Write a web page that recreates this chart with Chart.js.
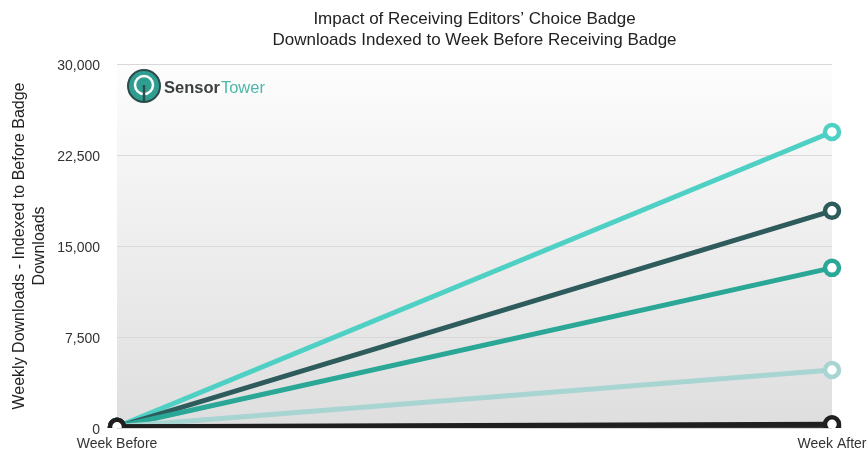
<!DOCTYPE html>
<html>
<head>
<meta charset="utf-8">
<script src="https://cdn.jsdelivr.net/npm/chart.js@4/dist/chart.umd.min.js"></script>
<style>
  html, body { margin: 0; padding: 0; background: #fff; }
  #wrap { width: 868px; height: 455px; }
</style>
</head>
<body>
<div id="wrap"><canvas id="chart"></canvas></div>
<script>
const semanas = ['Week Before', 'Week After'];

const serieClara = [100, 24400];
const serieOscura = [100, 17900];
const serieMedia = [100, 13200];
const seriePalida = [100, 4780];
const serieNegra = [100, 300];
const serieGris = [100, 120];

const titulo = ['Impact of Receiving Editors\u2019 Choice Badge', 'Downloads Indexed to Week Before Receiving Badge'];

const FUENTE = "'Liberation Sans', Helvetica, Arial, sans-serif";

// fondo degradado del area del grafico
const fondoPlugin = {
    id: 'fondo',
    beforeDraw(chart) {
        const { ctx, chartArea: a } = chart;
        const g = ctx.createLinearGradient(0, a.top, 0, a.bottom);
        g.addColorStop(0, '#fdfdfd');
        g.addColorStop(1, '#dedede');
        ctx.save();
        ctx.fillStyle = g;
        ctx.fillRect(a.left, a.top, a.right - a.left, a.bottom - a.top);
        ctx.restore();
    }
};

// titulo centrado sobre el area del grafico
const tituloPlugin = {
    id: 'titulo',
    afterDraw(chart) {
        const { ctx, chartArea: a } = chart;
        const cx = (a.left + a.right) / 2;
        ctx.save();
        ctx.font = '17px ' + FUENTE;
        ctx.fillStyle = '#222';
        ctx.textAlign = 'center';
        ctx.textBaseline = 'alphabetic';
        ctx.fillText(titulo[0], cx, 24);
        ctx.fillText(titulo[1], cx, 45);
        ctx.restore();
    }
};

// logo de Sensor Tower
const logoPlugin = {
    id: 'logo',
    beforeDatasetsDraw(chart) {
        const ctx = chart.ctx;
        const cx = 144, cy = 86;
        ctx.save();
        ctx.beginPath();
        ctx.arc(cx, cy, 16, 0, Math.PI * 2);
        ctx.fillStyle = '#2f9e90';
        ctx.fill();
        ctx.lineWidth = 2;
        ctx.strokeStyle = '#2c4b4b';
        ctx.stroke();
        ctx.beginPath();
        ctx.arc(cx, cy - 1, 9, 0, Math.PI * 2);
        ctx.lineWidth = 2.5;
        ctx.strokeStyle = '#ffffff';
        ctx.stroke();
        ctx.beginPath();
        ctx.moveTo(cx, cy - 1);
        ctx.lineTo(cx, cy + 16);
        ctx.lineWidth = 2.5;
        ctx.strokeStyle = '#2c4b4b';
        ctx.stroke();

        ctx.textBaseline = 'alphabetic';
        ctx.font = 'bold 16.5px ' + FUENTE;
        ctx.fillStyle = '#3b3f3f';
        ctx.fillText('Sensor', 164, 93);
        const w = ctx.measureText('Sensor').width;
        ctx.font = '16.5px ' + FUENTE;
        ctx.fillStyle = '#4cb8ab';
        ctx.fillText('Tower', 164 + w + 1, 93);
        ctx.restore();
    }
};

const linea = (data, color) => ({
    data: data,
    borderColor: color,
    backgroundColor: '#ffffff',
    borderWidth: 5,
    pointRadius: 7,
    pointBorderWidth: 4.5,
    pointBorderColor: color,
    pointBackgroundColor: '#ffffff',
    fill: false,
    tension: 0
});

new Chart(document.getElementById('chart'), {
    type: 'line',
    data: {
        labels: semanas,
        datasets: [
            linea(serieNegra, '#1f1f1f'),
            linea(serieGris, '#3a3a3a'),
            linea(seriePalida, '#a8d4d2'),
            linea(serieMedia, '#2aa797'),
            linea(serieOscura, '#2e5b5b'),
            linea(serieClara, '#4fd0c4')
        ]
    },
    options: {
        responsive: true,
        maintainAspectRatio: false,
        animation: false,
        layout: { padding: { top: 64, right: 36, bottom: 0, left: 0 } },
        plugins: {
            legend: { display: false },
            tooltip: { enabled: false },
            title: { display: false }
        },
        scales: {
            x: {
                offset: false,
                grid: { display: false },
                border: { display: false },
                ticks: {
                    color: '#333',
                    font: { family: FUENTE, size: 14 },
                    maxRotation: 0,
                    autoSkip: false,
                    padding: 0
                },
                afterFit: (s) => { s.height = 27; s.paddingLeft = 0; s.paddingRight = 0; }
            },
            y: {
                min: 0,
                max: 30000,
                grid: { color: '#d8d8d8', drawTicks: false },
                border: { display: false },
                ticks: {
                    stepSize: 7500,
                    color: '#333',
                    font: { family: FUENTE, size: 14 },
                    padding: 17,
                    labelOffset: 2
                },
                title: {
                    display: true,
                    text: ['Weekly Downloads - Indexed to Before Badge', 'Downloads'],
                    color: '#222',
                    font: { family: FUENTE, size: 16, lineHeight: 1.25 },
                    padding: { top: 10, bottom: 0 }
                },
                afterFit: (s) => { s.width = 117; s.paddingTop = 0; s.paddingBottom = 0; }
            }
        }
    },
    plugins: [fondoPlugin, tituloPlugin, logoPlugin]
});
</script>
</body>
</html>
